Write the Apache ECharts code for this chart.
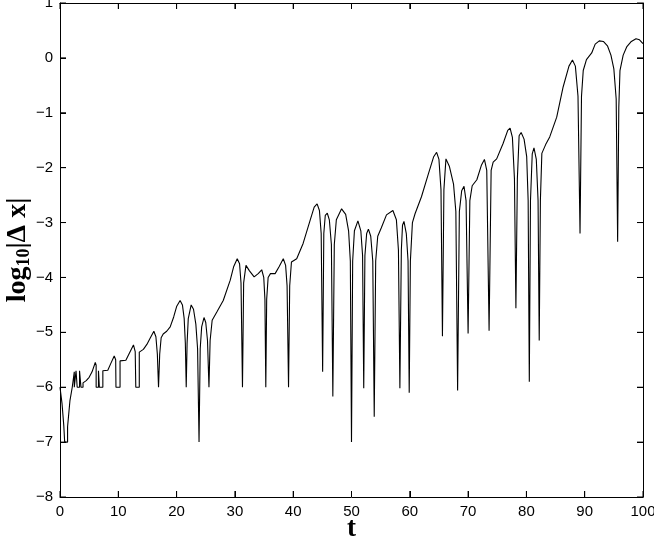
<!DOCTYPE html>
<html>
<head>
<meta charset="utf-8">
<script src="https://cdn.jsdelivr.net/npm/echarts@6/dist/echarts.min.js"></script>
<style>
  html, body { margin: 0; padding: 0; background: #fff; }
  #chart { width: 654px; height: 538px; }
</style>
</head>
<body>
<div id="chart"></div>
<script>
  // x axis (t) and y axis (log10|dx|) ticks
  var tTicks = [0, 10, 20, 30, 40, 50, 60, 70, 80, 90, 100];
  var logTicks = [-8, -7, -6, -5, -4, -3, -2, -1, 0, 1];

  // [t, log10|dx|]
  var earlyPart = [
    [0, -6], [0.35, -6.3], [0.65, -6.7], [0.8, -7], [1.3, -7], [1.3, -6.72], [1.7, -6.25], [2.1, -6.0], [2.45, -5.72],
    [2.45, -6], [2.75, -6], [2.75, -5.7], [2.95, -5.7], [2.95, -6], [3.35, -6], [3.35, -5.7], [3.6, -5.7], [3.6, -6], [3.95, -6], [3.95, -5.92],
    [4.5, -5.88], [5.0, -5.82], [5.5, -5.72], [6.05, -5.55], [6.2, -5.6], [6.2, -6], [6.6, -6], [6.6, -5.7], [6.75, -5.7], [6.75, -6],
    [7.35, -6], [7.35, -5.7], [8.2, -5.69], [8.7, -5.57], [9.3, -5.43], [9.55, -5.5], [9.6, -6], [10.3, -6], [10.3, -5.52],
    [11.3, -5.51], [12.0, -5.36], [12.6, -5.23], [12.9, -5.35], [13.0, -6], [13.6, -6], [13.6, -5.36], [14.3, -5.31], [14.9, -5.22],
    [15.5, -5.1], [16.1, -4.98], [16.45, -5.08], [16.7, -5.4], [16.9, -6], [17.1, -5.4], [17.35, -5.1], [17.7, -5.03], [18.3, -4.98],
    [18.9, -4.9], [19.5, -4.72], [20.0, -4.53], [20.6, -4.42], [21.0, -4.5], [21.3, -4.75], [21.5, -5.2], [21.65, -6], [21.8, -5.2],
    [22.0, -4.75], [22.5, -4.5], [22.9, -4.58], [23.3, -4.85], [23.6, -5.3], [23.85, -7], [24.05, -5.3], [24.3, -4.9], [24.7, -4.73],
    [25.0, -4.82], [25.3, -5.15], [25.55, -6], [25.75, -5.15], [26.1, -4.78], [26.9, -4.63], [28.0, -4.42], [29.2, -4.05]
  ];
  var middlePart = [
    [29.8, -3.8], [30.4, -3.66], [30.8, -3.75], [31.05, -4.1], [31.3, -6], [31.5, -4.1], [31.9, -3.78], [32.5, -3.88], [33.3, -3.99],
    [34.0, -3.93], [34.6, -3.86], [34.95, -4.0], [35.15, -4.4], [35.3, -6], [35.45, -4.4], [35.7, -4.0], [36.1, -3.93], [36.9, -3.93],
    [37.6, -3.8], [38.3, -3.66], [38.7, -3.78], [38.95, -4.15], [39.2, -6], [39.4, -4.15], [39.7, -3.72], [40.6, -3.66], [41.7, -3.38],
    [42.9, -2.96], [43.6, -2.72], [44.1, -2.66], [44.5, -2.78], [44.8, -3.2], [45.05, -5.72], [45.25, -3.2], [45.5, -2.87], [45.85, -2.83],
    [46.2, -2.95], [46.55, -3.4], [46.8, -6.17], [47.05, -3.4], [47.4, -2.95], [48.3, -2.75], [49.0, -2.85], [49.5, -3.15], [49.8, -3.7],
    [50.0, -7.0], [50.2, -3.7], [50.5, -3.15], [51.1, -2.97], [51.6, -3.15], [51.9, -3.6], [52.1, -6.02], [52.3, -3.6], [52.6, -3.2],
    [52.9, -3.12], [53.3, -3.25], [53.65, -3.7], [53.9, -6.54], [54.15, -3.7], [54.5, -3.25], [55.1, -3.1], [56.0, -2.86], [57.1, -2.78],
    [57.7, -2.95], [58.05, -3.5], [58.3, -6.02], [58.55, -3.5], [58.75, -3.05], [59.0, -2.98], [59.4, -3.2], [59.7, -3.7], [59.9, -6.1],
    [60.1, -3.7], [60.45, -3.0], [60.9, -2.84], [62.0, -2.53], [63.2, -2.11]
  ];
  var latePart = [
    [64.1, -1.8], [64.6, -1.72], [65.0, -1.85], [65.35, -2.4], [65.6, -5.07], [65.85, -2.4], [66.2, -1.84], [66.8, -1.98], [67.5, -2.3],
    [67.9, -2.8], [68.2, -6.06], [68.5, -2.8], [68.9, -2.42], [69.3, -2.34], [69.65, -2.6], [70.0, -5.02], [70.3, -2.6], [70.7, -2.33],
    [71.5, -2.22], [72.3, -1.95], [72.8, -1.85], [73.2, -2.05], [73.6, -4.97], [73.95, -2.05], [74.3, -1.9], [74.9, -1.84], [76.0, -1.56],
    [76.8, -1.32], [77.2, -1.28], [77.6, -1.45], [77.95, -2.2], [78.2, -4.56], [78.45, -2.2], [78.75, -1.42], [79.1, -1.36], [79.6, -1.48],
    [80.05, -1.8], [80.3, -2.6], [80.5, -5.9], [80.7, -2.6], [81.0, -1.75], [81.3, -1.64], [81.7, -1.85], [82.0, -2.6], [82.2, -5.15],
    [82.4, -2.6], [82.65, -1.74], [83.3, -1.58], [84.0, -1.44], [85.2, -1.08], [86.3, -0.53], [87.3, -0.15], [87.9, -0.04], [88.4, -0.15],
    [88.85, -0.7], [89.2, -3.2], [89.45, -0.7], [89.75, -0.23], [90.3, -0.03], [91.2, 0.09], [91.8, 0.25], [92.5, 0.31], [93.2, 0.3],
    [93.9, 0.22], [94.5, 0.05], [95.0, -0.2], [95.4, -0.75], [95.65, -3.35], [95.85, -0.9], [96.05, -0.23], [96.6, 0.05], [97.2, 0.2],
    [98.0, 0.3], [98.8, 0.35], [99.4, 0.33], [100, 0.26]
  ];

  var tMin = tTicks[0], tMax = tTicks[tTicks.length - 1];
  var logMin = logTicks[0], logMax = logTicks[logTicks.length - 1];
  var TICK_LEN = 6;

  var chart = echarts.init(document.getElementById('chart'));

  function tickFont() {
    return {
      color: '#000',
      fontFamily: 'Liberation Sans, Arial, sans-serif',
      fontSize: 15
    };
  }
  // frame side: line at the grid edge
  function frameAxis(extra) {
    return Object.assign({
      type: 'value',
      axisLine: { show: true, onZero: false, lineStyle: { color: '#000', width: 1 } },
      axisTick: { show: true, inside: true, length: TICK_LEN, lineStyle: { color: '#000', width: 1 } },
      splitLine: { show: false },
      nameMoveOverlap: false
    }, extra);
  }
  function tickLine(x1, y1, x2, y2) {
    return {
      type: 'line',
      shape: { x1: x1, y1: y1, x2: x2, y2: y2 },
      style: { stroke: '#000', lineWidth: 1 }
    };
  }

  var option = {
    animation: false,
    backgroundColor: '#fff',
    grid: { left: 60, right: 11, top: 3, bottom: 41, outerBoundsMode: 'none', containLabel: false },
    xAxis: [
      frameAxis({
        position: 'bottom',
        min: tMin,
        max: tMax,
        interval: 10,
        name: 't',
        nameLocation: 'middle',
        nameGap: 19,
        nameTextStyle: {
          fontFamily: 'Liberation Serif, Times New Roman, serif',
          fontWeight: 'bold',
          fontSize: 27,
          color: '#000',
          verticalAlign: 'top'
        },
        axisLabel: Object.assign({ margin: 7 }, tickFont())
      }),
      frameAxis({
        position: 'top',
        min: tMin,
        max: tMax,
        interval: 10,
        axisLabel: { show: false }
      })
    ],
    yAxis: [
      frameAxis({
        position: 'left',
        min: logMin,
        max: logMax,
        interval: 1,
        name: '{a|log}{s|10}{a||Δ x|}',
        nameLocation: 'middle',
        nameGap: 27,
        nameRotate: 90,
        nameTextStyle: {
          color: '#000',
          rich: {
            a: {
              fontFamily: 'Liberation Serif, Times New Roman, serif',
              fontWeight: 'bold',
              fontSize: 28,
              color: '#000'
            },
            s: {
              fontFamily: 'Liberation Serif, Times New Roman, serif',
              fontWeight: 'bold',
              fontSize: 18,
              color: '#000',
              verticalAlign: 'bottom',
              padding: [12, 0, 0, 0]
            }
          }
        },
        axisLabel: Object.assign({
          margin: 7,
          formatter: function (v) { return String(v).replace('-', '\u2212'); }
        }, tickFont())
      }),
      frameAxis({
        position: 'right',
        min: logMin,
        max: logMax,
        interval: 1,
        axisLabel: { show: false }
      })
    ],
    series: [
      {
        type: 'line',
        xAxisIndex: 0,
        yAxisIndex: 0,
        data: earlyPart.concat(middlePart, latePart),
        showSymbol: false,
        smooth: false,
        lineStyle: { color: '#000', width: 1.1 },
        clip: true
      },
      {
        // inward ticks on the bottom and top frame, placed by the t scale
        type: 'custom',
        xAxisIndex: 0,
        yAxisIndex: 0,
        silent: true,
        data: tTicks.map(function (t) { return [t, logMin]; }),
        renderItem: function (params, api) {
          var t = api.value(0);
          var lo = api.coord([t, logMin]);
          var hi = api.coord([t, logMax]);
          return {
            type: 'group',
            children: [
              tickLine(lo[0], lo[1], lo[0], lo[1] - TICK_LEN),
              tickLine(hi[0], hi[1], hi[0], hi[1] + TICK_LEN)
            ]
          };
        }
      },
      {
        // inward ticks on the left and right frame, placed by the log scale
        type: 'custom',
        xAxisIndex: 0,
        yAxisIndex: 0,
        silent: true,
        data: logTicks.map(function (v) { return [tMin, v]; }),
        renderItem: function (params, api) {
          var v = api.value(1);
          var l = api.coord([tMin, v]);
          var r = api.coord([tMax, v]);
          return {
            type: 'group',
            children: [
              tickLine(l[0], l[1], l[0] + TICK_LEN, l[1]),
              tickLine(r[0], r[1], r[0] - TICK_LEN, r[1])
            ]
          };
        }
      }
    ]
  };

  chart.setOption(option);
  window.addEventListener('resize', function () {
    chart.resize();
  });
</script>
</body>
</html>
